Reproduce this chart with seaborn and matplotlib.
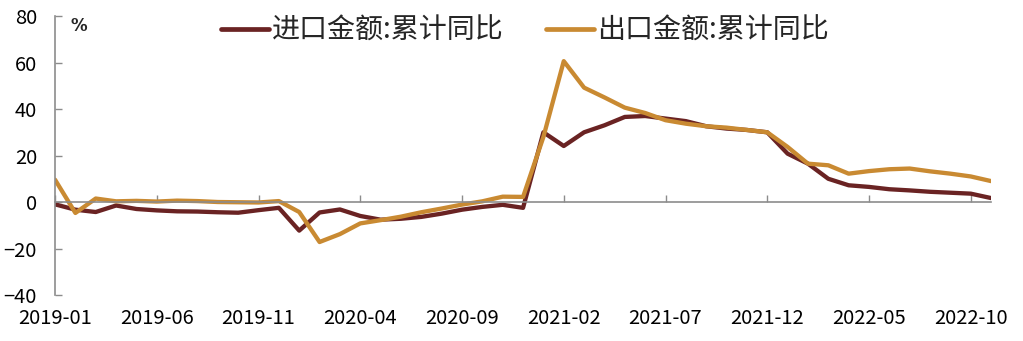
import pandas as pd
import seaborn as sns
import matplotlib.pyplot as plt

# Monthly cumulative year-on-year growth (%), 2019-01 .. 2022-11
months = pd.period_range("2019-01", "2022-11", freq="M").strftime("%Y-%m").tolist()

imports_yoy = [
    -1.0, -3.3, -4.3, -1.5, -3.0, -3.6, -4.0, -4.1, -4.4, -4.6, -3.5, -2.5,
    -12.3, -4.5, -3.2, -6.0, -7.6, -7.2, -6.4, -5.0, -3.3, -2.1, -1.2, -2.5,
    30.0, 24.1, 30.0, 33.0, 36.6, 37.0, 35.9, 34.8, 32.6, 31.6, 31.0, 30.0,
    20.8, 16.5, 10.0, 7.2, 6.5, 5.5, 5.0, 4.4, 4.0, 3.6, 1.7,
]
exports_yoy = [
    9.6, -4.7, 1.5, 0.3, 0.5, 0.2, 0.6, 0.4, 0.0, -0.1, -0.2, 0.4,
    -4.3, -17.2, -13.8, -9.2, -7.8, -6.3, -4.4, -2.8, -1.1, 0.3, 2.3, 2.2,
    28.0, 60.6, 49.2, 45.0, 40.6, 38.3, 35.2, 33.7, 32.6, 32.0, 31.0, 30.0,
    23.7, 16.5, 15.8, 12.2, 13.3, 14.1, 14.4, 13.2, 12.2, 11.0, 9.0,
]

series_names = ["进口金额:累计同比", "出口金额:累计同比"]
series_colors = ["#6a2323", "#c98a32"]
y_ticks = [-40, -20, 0, 20, 40, 60, 80]
x_tick_step = 5

df = pd.DataFrame({
    "idx": list(range(len(months))) * 2,
    "month": months * 2,
    "value": imports_yoy + exports_yoy,
    "series": [series_names[0]] * len(months) + [series_names[1]] * len(months),
})

sns.set_theme(style="white")
plt.rcParams["font.family"] = ["Noto Sans CJK SC", "DejaVu Sans"]
plt.rcParams["axes.unicode_minus"] = True

fig = plt.figure(figsize=(10.23, 3.41), dpi=100)
ax = fig.add_axes([0.0538, 0.1349, 0.915, 0.818])

sns.lineplot(
    data=df, x="idx", y="value", hue="series", hue_order=series_names,
    palette=series_colors, linewidth=3.1, ax=ax, legend=False, sort=False,
)
for line in ax.lines:
    line.set_solid_joinstyle("round")
    line.set_solid_capstyle("round")

ax.set_xlim(0, len(months) - 1)
ax.set_ylim(-40, 80)
ax.set_yticks(y_ticks)
ax.set_xticks(range(0, len(months), x_tick_step))
ax.set_xticklabels(months[::x_tick_step])
ax.set_xlabel("")
ax.set_ylabel("")

spine_color = "#8c8c8c"
for side in ["top", "right"]:
    ax.spines[side].set_visible(False)
ax.spines["left"].set_color(spine_color)
ax.spines["left"].set_linewidth(1.2)
ax.spines["bottom"].set_color(spine_color)
ax.spines["bottom"].set_linewidth(1.2)
ax.spines["bottom"].set_position(("data", 0))

ax.tick_params(axis="y", direction="in", length=5, width=1.0, color=spine_color,
               labelsize=14.5, labelcolor="black", pad=13, left=True)
ax.tick_params(axis="x", direction="in", length=5, width=1.0, color=spine_color,
               labelsize=14.5, labelcolor="black", pad=76, bottom=True)

fig.text(79 / 1023, 1 - 26 / 341, "%", fontsize=12, fontweight="bold",
         ha="center", va="center", family=["DejaVu Sans"])

handles = [plt.Line2D([], [], color=c, linewidth=3.4, solid_capstyle="round")
           for c in series_colors]
fig.legend(handles, series_names, loc="center", bbox_to_anchor=(0.513, 0.909),
           ncol=2, frameon=False, fontsize=20.2, handlelength=1.7,
           handletextpad=0.12, columnspacing=1.5)

fig.savefig("out.png", dpi=100)
